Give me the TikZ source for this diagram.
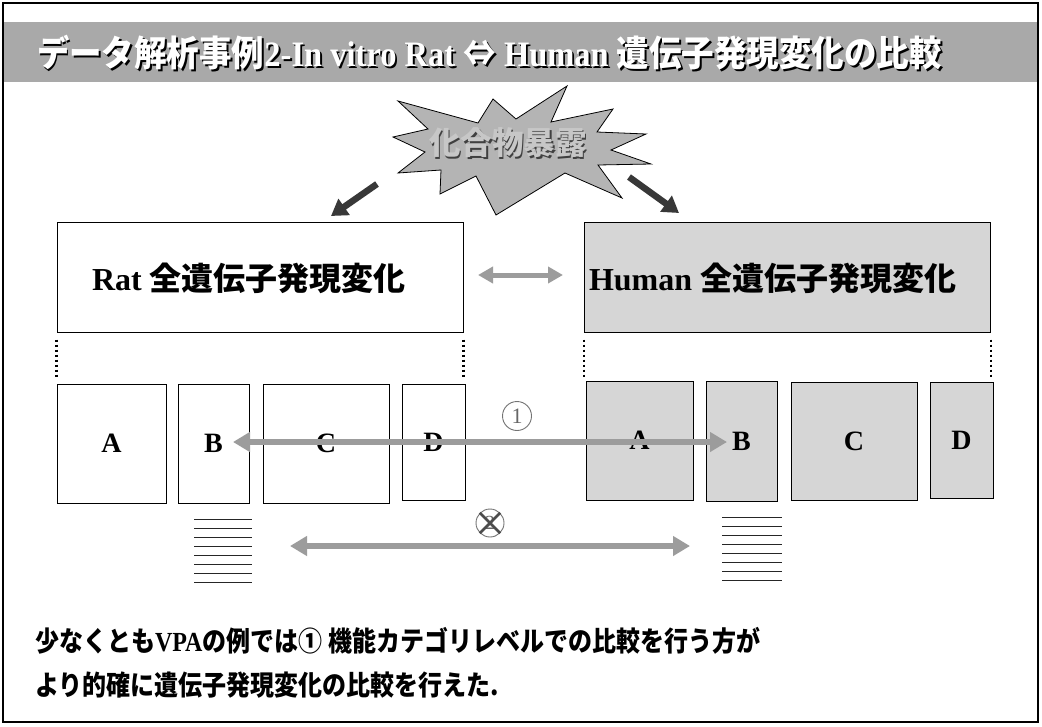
\documentclass[tikz,border=0pt]{standalone}
\usepackage{fontspec}
\usepackage{graphicx}
\setmainfont{Liberation Serif}
\newfontfamily\jp{Noto Sans CJK JP}
\usetikzlibrary{arrows.meta}
\definecolor{bandgray}{HTML}{A9A9A9}
\definecolor{stargray}{HTML}{B4B4B4}
\definecolor{boxgray}{HTML}{D6D6D6}
\definecolor{arrowgray}{HTML}{9C9C9C}
\definecolor{darkarrow}{HTML}{383838}
\newcommand\J[1]{{\jp\bfseries #1}}
\begin{document}
\begin{tikzpicture}[x=1pt,y=-1pt,
  txt/.style={inner sep=0pt, outer sep=0pt},
  bigbox/.style={draw=black, line width=1pt, minimum width=406pt, minimum height=110pt, inner sep=0pt},
  sbox/.style={draw=black, line width=1pt, inner sep=0pt, font=\fontsize{28}{30}\selectfont\bfseries},
  grayarrow/.style={draw=arrowgray, line width=6pt, {Triangle[length=17pt,width=19pt]}-{Triangle[length=17pt,width=19pt]}},
  darkarr/.style={draw=darkarrow, line width=6.5pt, -{Triangle[length=16pt,width=19pt]}},
  dotline/.style={line width=2.4pt, dash pattern=on 2.4pt off 2.6pt},
  stackline/.style={line width=0.9pt, draw=black!85}
]
\useasboundingbox (0,0) rectangle (1042,726);
% frame and title band
\fill[white] (0,0) rectangle (1042,726);
\draw[line width=2pt] (3,3) rectangle (1038,722);
\fill[bandgray] (4,22) rectangle (1037,82);
\node[txt, anchor=west, text=black] (titles) at (38.8,54.8)
  {\scalebox{1}[1.1]{\fontsize{32.5}{36}\selectfont\J{データ解析事例}\textbf{2-In vitro Rat }\J{⇔}\textbf{ Human }\J{遺伝子発現変化の比較}}};
\node[txt, anchor=west, text=white] (title) at (37,53)
  {\scalebox{1}[1.1]{\fontsize{32.5}{36}\selectfont\J{データ解析事例}\textbf{2-In vitro Rat }\J{⇔}\textbf{ Human }\J{遺伝子発現変化の比較}}};
% starburst
\draw[fill=stargray, line width=0.8pt] (398,101) -- (478,123) -- (493,99) -- (516,119) -- (567,86) -- (551,122)
  -- (613,109) -- (597,132) -- (646,134) -- (611,150) -- (651,164) -- (598,165) -- (622,198)
  -- (565,173) -- (496,215) -- (476,176) -- (440,194) -- (441,170) -- (398,173) -- (425,152)
  -- (393,137) -- (428,129) -- cycle;
\node[txt, text=black!75] (stars) at (509.5,144.5) {\fontsize{31.5}{34}\selectfont\J{化合物暴露}};
\node[txt, text=black!22] (star) at (508,143) {\fontsize{31.5}{34}\selectfont\J{化合物暴露}};
% big boxes
\node[bigbox] (rat) at (260,277) {};
\node[bigbox, fill=boxgray] (human) at (787.5,277) {};
\node[txt, anchor=west] (rattext) at (92,278) {\fontsize{32}{36}\selectfont\textbf{Rat }\J{全遺伝子発現変化}};
\node[txt, anchor=west] (humantext) at (589,278) {\fontsize{32}{36}\selectfont\textbf{Human }\J{全遺伝子発現変化}};
% arrows from the burst
\coordinate (la1) at (377,184);
\coordinate (la2) at (331,216);
\coordinate (ra1) at (629,177);
\coordinate (ra2) at (679,213);
\draw[darkarr] (la1) -- (la2);
\draw[darkarr] (ra1) -- (ra2);
% arrow between big boxes
\coordinate (mid1) at (478,275);
\coordinate (mid2) at (563,275);
\draw[draw=arrowgray, line width=5pt, {Triangle[length=15pt,width=16pt]}-{Triangle[length=15pt,width=16pt]}] (mid1) -- (mid2);
% dotted guides
\draw[dotline] (rat.south west) ++(0,7) -- ++(0,38);
\draw[dotline] (rat.south east) ++(0,7) -- ++(0,38);
\draw[dotline] (human.south west) ++(0,7) -- ++(0,38);
\draw[dotline] (human.south east) ++(0,7) -- ++(0,38);
% small boxes left
\node[sbox, minimum width=109pt, minimum height=119pt] (lA) at (111.5,443.5) {A};
\node[sbox, minimum width=71pt, minimum height=119pt] (lB) at (213.5,443.5) {B};
\node[sbox, minimum width=126pt, minimum height=119pt] (lC) at (326,443.5) {C};
\node[sbox, minimum width=63pt, minimum height=116pt] (lD) at (433.5,442.5) {D};
% small boxes right
\node[sbox, fill=boxgray, minimum width=107pt, minimum height=119pt] (rA) at (639.5,440.5) {A};
\node[sbox, fill=boxgray, minimum width=71pt, minimum height=120pt] (rB) at (741.5,441) {B};
\node[sbox, fill=boxgray, minimum width=126pt, minimum height=118pt] (rC) at (854,441) {C};
\node[sbox, fill=boxgray, minimum width=63pt, minimum height=116pt] (rD) at (961.5,440) {D};
% comparison arrows
\coordinate (c1a) at (233,442);
\coordinate (c1b) at (727,442);
\draw[grayarrow] (c1a) -- (c1b);
\node[circle, draw=black!55, line width=0.9pt, minimum size=29pt, inner sep=0pt, text=black!60,
  font=\fontsize{22}{24}\selectfont] (one) at (517,416) {1};
\coordinate (c2a) at (290,546);
\coordinate (c2b) at (690,546);
\draw[grayarrow] (c2a) -- (c2b);
\node[circle, draw=black!55, line width=0.9pt, minimum size=28pt, inner sep=0pt, text=black!60,
  font=\fontsize{20}{22}\selectfont] (two) at (490,523) {2};
\draw[draw=black!70, line width=2.6pt] (two.north west) -- (two.south east);
\draw[draw=black!70, line width=2.6pt] (two.north east) -- (two.south west);
% gene lists
\foreach \i in {0,...,7} {
  \draw[stackline] (194,519+9.1*\i) -- (252,519+9.1*\i);
  \draw[stackline] (722,517+9*\i) -- (782,517+9*\i);
}
% conclusion
\node[txt, anchor=west] (concl1) at (35,641)
  {\scalebox{1}[1.15]{\fontsize{24}{28}\selectfont\J{少なくとも}\textbf{VPA}\J{の例では① 機能カテゴリレベルでの比較を行う方が}}};
\node[txt, anchor=west] (concl2) at (35,685)
  {\scalebox{1}[1.15]{\fontsize{24}{28}\selectfont\J{より的確に遺伝子発現変化の比較を行えた.}}};
\end{tikzpicture}
\end{document}
